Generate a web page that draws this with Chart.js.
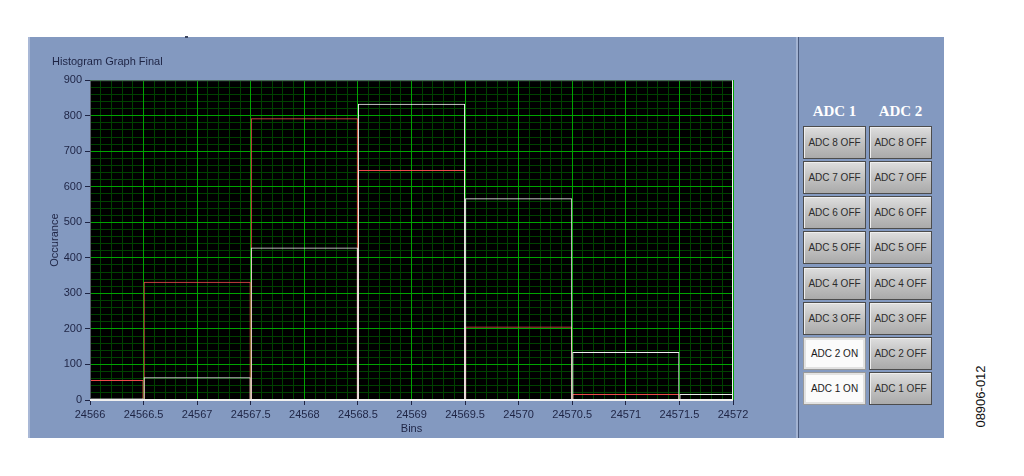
<!DOCTYPE html>
<html>
<head>
<meta charset="utf-8">
<script src="https://cdn.jsdelivr.net/npm/chart.js@4/dist/chart.umd.min.js"></script>
<style>
  body { margin: 0; background: #fff; font-family: 'Liberation Sans', Arial, sans-serif; }
  #page { position: relative; width: 1024px; height: 476px; overflow: hidden; }
  .panel { position: absolute; left: 28px; top: 37px; width: 916px; height: 401px; background: #8399c0;
           border-left: 2px solid #a9b8d6; box-sizing: border-box; }
  .notch { position: absolute; left: 185px; top: 36px; width: 3px; height: 2px; background: #3c4660; }
  .divider { position: absolute; left: 796px; top: 37px; width: 2px; height: 401px; background: #a3b3d2; }
  .divider2 { position: absolute; left: 798px; top: 37px; width: 1px; height: 401px; background: #48587a; }
  #plot { position: absolute; left: 28px; top: 37px; width: 768px; height: 401px; }
  .hdr { position: absolute; top: 103px; width: 63px; text-align: center; color: #fff;
         font: bold 15px 'Liberation Serif', 'DejaVu Serif', serif; }
  .btn { position: absolute; width: 63px; height: 33px; box-sizing: border-box; text-align: center;
         line-height: 31px; font-size: 10px; color: #2c2c2c; border: 1px solid #4c4c4c;
         background: linear-gradient(#dedede, #c4c4c4 45%, #aaaaaa); box-shadow: inset 1px 1px 0 #efefef; }
  .btn.on { background: #fbfbfb; border: 1px solid #9a9a9a; box-shadow: inset 0 0 0 2px #e2e2e2; color: #1a1a1a; }
  .fig { position: absolute; left: 940px; top: 389px; width: 80px; text-align: center; font-size: 13px;
         color: #111; transform: rotate(-90deg); }
</style>
</head>
<body>
<div id="page">
  <div class="panel"></div>
  <div class="notch"></div>
  <div class="divider"></div>
  <div class="divider2"></div>
  <div id="plot"><canvas id="hist"></canvas></div>
  <div class="hdr" style="left:803px">ADC 1</div>
  <div class="hdr" style="left:869px">ADC 2</div>
  <div id="buttons"></div>
  <div class="fig">08906-012</div>
</div>
<script>
// histogram bins (bin centres) and counts
const bins = [24566, 24567, 24568, 24569, 24570, 24571, 24572];
const adc1Counts = [56, 333, 793, 647, 207, 17, 0];   // red trace
const adc2Counts = [5, 64, 429, 834, 568, 135, 17];   // white trace
const xTicks = [24566, 24566.5, 24567, 24567.5, 24568, 24568.5, 24569, 24569.5, 24570, 24570.5, 24571, 24571.5, 24572];
const yTicks = [0, 100, 200, 300, 400, 500, 600, 700, 800, 900];

// button panel on the right
const adcRows = [8, 7, 6, 5, 4, 3, 2, 1];
const col1On = [false, false, false, false, false, false, true, true];
let html = '';
adcRows.forEach(function (n, i) {
    const top = Math.round(126 + i * 35.15);
    html += '<div class="btn' + (col1On[i] ? ' on' : '') + '" style="left:803px;top:' + top + 'px">ADC ' + n + (col1On[i] ? ' ON' : ' OFF') + '</div>';
    html += '<div class="btn" style="left:869px;top:' + top + 'px">ADC ' + n + ' OFF</div>';
});
document.getElementById('buttons').innerHTML = html;

const textColor = '#1e2444';
const majorGrid = '#00a400';
const minorGrid = '#004200';

const plotFrame = {
    id: 'plotFrame',
    beforeDraw(chart) {
        const {ctx, chartArea: a} = chart;
        ctx.save();
        ctx.fillStyle = '#000';
        ctx.fillRect(a.left, a.top, a.right - a.left, a.bottom - a.top);
        ctx.restore();
    },
    afterDatasetsDraw(chart) {
        const {ctx, chartArea: a} = chart;
        ctx.save();
        ctx.lineWidth = 1;
        ctx.strokeStyle = '#555a66';
        ctx.beginPath();
        ctx.moveTo(a.left + 0.5, a.bottom);
        ctx.lineTo(a.left + 0.5, a.top + 0.5);
        ctx.lineTo(a.right, a.top + 0.5);
        ctx.stroke();
        ctx.strokeStyle = '#f0f0f0';
        ctx.beginPath();
        ctx.moveTo(a.right - 0.5, a.top);
        ctx.lineTo(a.right - 0.5, a.bottom);
        ctx.stroke();
        ctx.lineWidth = 2;
        ctx.beginPath();
        ctx.moveTo(a.left, a.bottom);
        ctx.lineTo(a.right, a.bottom);
        ctx.stroke();
        ctx.restore();
    }
};

Chart.defaults.font.family = "'Liberation Sans', Arial, sans-serif";
Chart.defaults.font.size = 11;
Chart.defaults.color = textColor;

const xMin = xTicks[0], xMax = xTicks[xTicks.length - 1];
const yMin = yTicks[0], yMax = yTicks[yTicks.length - 1];

new Chart(document.getElementById('hist'), {
    type: 'bar',
    data: {
        datasets: [
            {
                label: 'ADC 1',
                data: bins.map((b, i) => ({x: b, y: adc1Counts[i]})),
                backgroundColor: 'transparent',
                borderColor: '#ee4a4a',
                borderWidth: 1,
                order: 2,
                xAxisID: 'xBins'
            },
            {
                label: 'ADC 2',
                data: bins.map((b, i) => ({x: b, y: adc2Counts[i]})),
                backgroundColor: 'transparent',
                borderColor: '#eeeeee',
                borderWidth: 1,
                order: 1,
                xAxisID: 'xBins'
            }
        ]
    },
    options: {
        responsive: true,
        maintainAspectRatio: false,
        animation: false,
        grouped: false,
        barPercentage: 1,
        categoryPercentage: 1,
        inflateAmount: 0,
        layout: {padding: {left: 24, right: 63, top: 0, bottom: 2}},
        plugins: {
            legend: {display: false},
            tooltip: {enabled: false},
            title: {
                display: true,
                text: 'Histogram Graph Final',
                align: 'start',
                color: textColor,
                font: {size: 11, weight: 'normal'},
                padding: {top: 18, bottom: 12}
            }
        },
        scales: {
            xBins: {
                type: 'linear', display: false, min: xMin, max: xMax, offset: false,
                ticks: {stepSize: 1},
                grid: {offset: false}
            },
            xMinor: {
                type: 'linear', position: 'bottom', min: xMin, max: xMax, offset: false,
                ticks: {display: false, stepSize: 0.1},
                grid: {color: minorGrid, drawTicks: false, z: -2, offset: false},
                border: {display: false},
                afterFit: s => { s.height = 0; }
            },
            x: {
                type: 'linear', position: 'bottom', min: xMin, max: xMax, offset: false,
                afterBuildTicks: s => { s.ticks = xTicks.map(v => ({value: v})); },
                ticks: {autoSkip: false, maxRotation: 0, padding: 3, color: textColor, callback: v => String(v)},
                grid: {color: majorGrid, tickColor: textColor, tickLength: 5, offset: false},
                border: {display: false},
                title: {display: true, text: 'Bins', color: textColor, padding: {top: 0, bottom: 0}},
                afterFit: s => { s.height = 36; }
            },
            yMinor: {
                type: 'linear', position: 'left', min: yMin, max: yMax,
                ticks: {display: false, stepSize: 20},
                grid: {color: minorGrid, drawTicks: false, z: -2},
                border: {display: false},
                afterFit: s => { s.width = 0; }
            },
            y: {
                type: 'linear', position: 'left', min: yMin, max: yMax,
                afterBuildTicks: s => { s.ticks = yTicks.map(v => ({value: v})); },
                ticks: {padding: 3, color: textColor, callback: v => String(v)},
                grid: {color: majorGrid, tickColor: textColor, tickLength: 5},
                border: {display: false},
                title: {display: true, text: 'Occurance', color: textColor, padding: {top: -4, bottom: 0}},
                afterFit: s => { s.width = 38; }
            }
        }
    },
    plugins: [plotFrame]
});
</script>
</body>
</html>
